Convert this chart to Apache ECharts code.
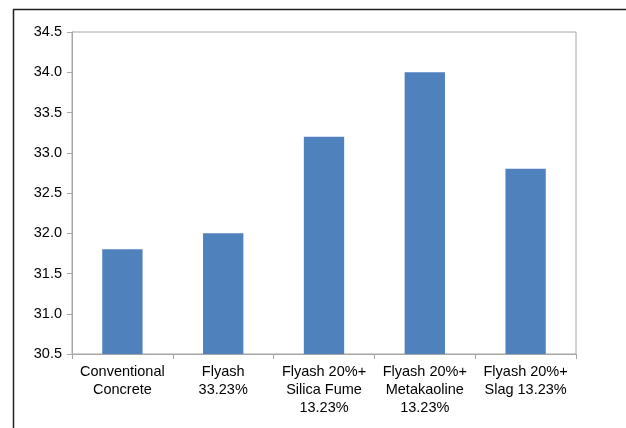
<!DOCTYPE html>
<html>
<head>
<meta charset="utf-8">
<script src="https://cdn.jsdelivr.net/npm/echarts@6/dist/echarts.min.js"></script>
<style>
html,body{margin:0;padding:0;background:#fff;}
#chart{width:626px;height:428px;}
</style>
</head>
<body>
<div id="chart"></div>
<script>
const categories = [
  "Conventional\nConcrete",
  "Flyash\n33.23%",
  "Flyash 20%+\nSilica Fume\n13.23%",
  "Flyash 20%+\nMetakaoline\n13.23%",
  "Flyash 20%+\nSlag 13.23%"
];
const values = [31.8, 32.0, 33.2, 34.0, 32.8];
const yMin = 30.5, yMax = 34.5, yStep = 0.5;

const chart = echarts.init(document.getElementById('chart'), null, {renderer: 'canvas'});
chart.setOption({
  animation: false,
  backgroundColor: '#fff',
  textStyle: {fontFamily: 'Liberation Sans, Arial, sans-serif'},
  grid: {left: 72, top: 32, right: 50, bottom: 74, show: true, borderColor: '#a6a6a6', borderWidth: 1, backgroundColor: 'transparent'},
  xAxis: {
    type: 'category',
    data: categories,
    axisLine: {lineStyle: {color: '#a6a6a6', width: 1}},
    axisTick: {show: true, length: 5, alignWithLabel: false, lineStyle: {color: '#a6a6a6'}},
    axisLabel: {color: '#000', fontSize: 14.5, lineHeight: 18, margin: 9, interval: 0, fontFamily: 'Liberation Sans, Arial, sans-serif'},
    splitLine: {show: false}
  },
  yAxis: {
    type: 'value',
    min: yMin, max: yMax, interval: yStep,
    axisLine: {show: true, lineStyle: {color: '#a6a6a6', width: 1}},
    axisTick: {show: true, length: 5, lineStyle: {color: '#a6a6a6'}},
    axisLabel: {color: '#000', fontSize: 14.5, margin: 10, formatter: v => v.toFixed(1), fontFamily: 'Liberation Sans, Arial, sans-serif'},
    splitLine: {show: false}
  },
  series: [{
    type: 'bar',
    data: values,
    barWidth: '40%',
    itemStyle: {color: '#4f81bd'}
  }],
  graphic: [
    {type: 'line', shape: {x1: 13.5, y1: 9, x2: 13.5, y2: 428}, style: {stroke: '#222', lineWidth: 1.5}},
    {type: 'line', shape: {x1: 13, y1: 9.5, x2: 626, y2: 9.5}, style: {stroke: '#222', lineWidth: 1.5}}
  ]
});
</script>
</body>
</html>
